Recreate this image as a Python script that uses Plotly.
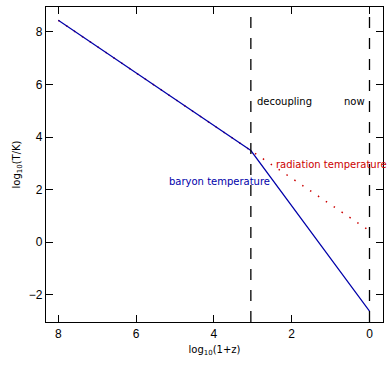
import plotly.graph_objects as go

# Data
log_1pz = [8.0, 3.05, 0.0]
baryon_T = [8.435, 3.485, -2.615]
rad_x = [8.0, 0.0]
rad_T = [8.435, 0.435]
event_x = [3.05, 0.0]
event_labels = ["decoupling", "now"]
x_ticks = [8, 6, 4, 2, 0]
y_ticks = [-2, 0, 2, 4, 6, 8]

fig = go.Figure()
fig.add_trace(go.Scatter(x=rad_x, y=rad_T, mode="lines",
                         line=dict(color="#cc0000", width=1.5, dash="1.5px,8px"),
                         showlegend=False, hoverinfo="skip"))
fig.add_trace(go.Scatter(x=log_1pz, y=baryon_T, mode="lines",
                         line=dict(color="#0000aa", width=1.2),
                         showlegend=False, hoverinfo="skip"))

for ex in event_x:
    fig.add_shape(type="line", x0=ex, x1=ex, y0=0, y1=1, xref="x", yref="paper",
                  line=dict(color="black", width=1.3, dash="11px,10px"))

fnt = "Liberation Sans, Arial, sans-serif"
afnt = "DejaVu Sans, sans-serif"
fig.add_annotation(x=event_x[0], y=5.35, text=event_labels[0], xanchor="left",
                   xshift=4, showarrow=False, font=dict(size=10, color="black", family=afnt))
fig.add_annotation(x=event_x[1], y=5.35, text=event_labels[1], xanchor="right",
                   xshift=-3, showarrow=False, font=dict(size=10, color="black", family=afnt))
fig.add_annotation(x=2.45, y=2.97, text="radiation temperature", xanchor="left",
                   showarrow=False, font=dict(size=10, color="#cc0000", family=afnt))
fig.add_annotation(x=2.5, y=2.3, text="baryon temperature", xanchor="right",
                   showarrow=False, font=dict(size=10, color="#0000aa", family=afnt))

axis_common = dict(showline=True, linecolor="black", linewidth=1.3, mirror="ticks",
                   ticks="inside", ticklen=7, tickcolor="black", tickwidth=1,
                   showgrid=False, zeroline=False,
                   tickfont=dict(size=12, color="black", family=fnt))

fig.update_xaxes(range=[8.316, -0.347], tickvals=x_ticks,
                 title=dict(text="log<sub>10</sub>(1+z)", font=dict(size=10, color="black", family=afnt),
                            standoff=6),
                 **axis_common)
fig.update_yaxes(range=[-3.03, 8.94], tickvals=y_ticks,
                 title=dict(text="log<sub>10</sub>(T/K)", font=dict(size=10, color="black", family=afnt),
                            standoff=6),
                 **axis_common)

fig.update_layout(width=392, height=367, margin=dict(l=46, r=9, t=7, b=45),
                  plot_bgcolor="white", paper_bgcolor="white", showlegend=False)

fig.write_html("out.html")
